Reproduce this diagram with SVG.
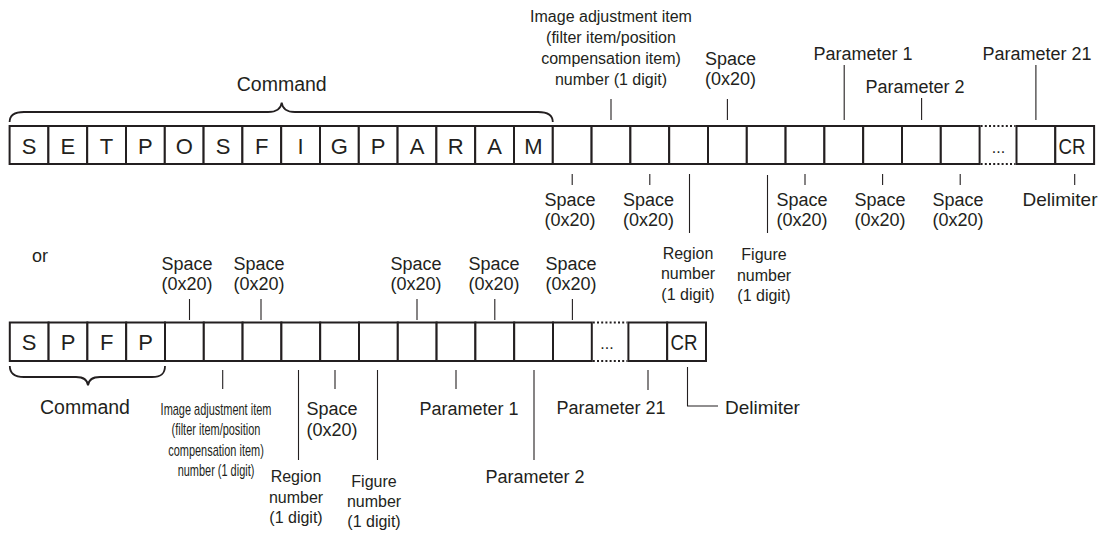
<svg xmlns="http://www.w3.org/2000/svg" width="1109" height="533" viewBox="0 0 1109 533">
<style>
text{font-family:"Liberation Sans",Arial,sans-serif;fill:#231f20}
.cell{fill:#fff;stroke:#231f20;stroke-width:2}
.ch{font-size:22px;text-anchor:middle}
.lb{font-size:18px;text-anchor:middle}
.sm{font-size:16px;text-anchor:middle}
.cmd{font-size:19.5px;text-anchor:middle}
.tk{stroke:#231f20;stroke-width:1.1;fill:none}
.br{stroke:#231f20;stroke-width:1.8;fill:none}
.dot{stroke:#231f20;stroke-width:2;stroke-dasharray:2 2.2}
.el{font-size:16px;text-anchor:middle}
.cond{font-size:16px;text-anchor:middle}
</style>
<rect width="1109" height="533" fill="#fff"/>

<!-- Top row -->
<g id="row-top">
<g id="t-S1"><rect class="cell" x="9.6" y="126" width="38.8" height="38"/><text class="ch" x="29" y="153.5">S</text></g>
<g id="t-E"><rect class="cell" x="48.4" y="126" width="38.8" height="38"/><text class="ch" x="67.8" y="153.5">E</text></g>
<g id="t-T"><rect class="cell" x="87.2" y="126" width="38.8" height="38"/><text class="ch" x="106.6" y="153.5">T</text></g>
<g id="t-P1"><rect class="cell" x="126" y="126" width="38.8" height="38"/><text class="ch" x="145.4" y="153.5">P</text></g>
<g id="t-O"><rect class="cell" x="164.8" y="126" width="38.8" height="38"/><text class="ch" x="184.2" y="153.5">O</text></g>
<g id="t-S2"><rect class="cell" x="203.6" y="126" width="38.8" height="38"/><text class="ch" x="223" y="153.5">S</text></g>
<g id="t-F"><rect class="cell" x="242.4" y="126" width="38.8" height="38"/><text class="ch" x="261.8" y="153.5">F</text></g>
<g id="t-I"><rect class="cell" x="281.2" y="126" width="38.8" height="38"/><text class="ch" x="300.6" y="153.5">I</text></g>
<g id="t-G"><rect class="cell" x="320" y="126" width="38.8" height="38"/><text class="ch" x="339.4" y="153.5">G</text></g>
<g id="t-P2"><rect class="cell" x="358.8" y="126" width="38.8" height="38"/><text class="ch" x="378.2" y="153.5">P</text></g>
<g id="t-A1"><rect class="cell" x="397.6" y="126" width="38.8" height="38"/><text class="ch" x="417" y="153.5">A</text></g>
<g id="t-R"><rect class="cell" x="436.4" y="126" width="38.8" height="38"/><text class="ch" x="455.8" y="153.5">R</text></g>
<g id="t-A2"><rect class="cell" x="475.2" y="126" width="38.8" height="38"/><text class="ch" x="494.6" y="153.5">A</text></g>
<g id="t-M"><rect class="cell" x="514" y="126" width="38.8" height="38"/><text class="ch" x="533.4" y="153.5">M</text></g>
<g id="t-e0"><rect class="cell" x="552.8" y="126" width="38.8" height="38"/></g>
<g id="t-e1"><rect class="cell" x="591.6" y="126" width="38.8" height="38"/></g>
<g id="t-e2"><rect class="cell" x="630.4" y="126" width="38.8" height="38"/></g>
<g id="t-e3"><rect class="cell" x="669.2" y="126" width="38.8" height="38"/></g>
<g id="t-e4"><rect class="cell" x="708" y="126" width="38.8" height="38"/></g>
<g id="t-e5"><rect class="cell" x="746.8" y="126" width="38.8" height="38"/></g>
<g id="t-e6"><rect class="cell" x="785.6" y="126" width="38.8" height="38"/></g>
<g id="t-e7"><rect class="cell" x="824.4" y="126" width="38.8" height="38"/></g>
<g id="t-e8"><rect class="cell" x="863.2" y="126" width="38.8" height="38"/></g>
<g id="t-e9"><rect class="cell" x="902" y="126" width="38.8" height="38"/></g>
<g id="t-e10"><rect class="cell" x="940.8" y="126" width="38.8" height="38"/></g>
<g id="t-dots"><line class="dot" x1="980.6" y1="126" x2="1015.5" y2="126"/><line class="dot" x1="980.6" y1="164" x2="1015.5" y2="164"/><text class="el" x="998.5" y="153">...</text></g>
<g id="t-p21"><rect class="cell" x="1016.5" y="126" width="38.8" height="38"/></g>
<g id="t-CR"><rect class="cell" x="1055.3" y="126" width="38.8" height="38"/><text class="ch" x="1072" y="153.5" textLength="27" lengthAdjust="spacingAndGlyphs">CR</text></g>
</g>

<!-- Bottom row -->
<g id="row-bottom">
<g id="b-S"><rect class="cell" x="9.8" y="322.5" width="38.8" height="38.5"/><text class="ch" x="29.2" y="350">S</text></g>
<g id="b-P1"><rect class="cell" x="48.6" y="322.5" width="38.8" height="38.5"/><text class="ch" x="68" y="350">P</text></g>
<g id="b-F"><rect class="cell" x="87.4" y="322.5" width="38.8" height="38.5"/><text class="ch" x="106.8" y="350">F</text></g>
<g id="b-P2"><rect class="cell" x="126.2" y="322.5" width="38.8" height="38.5"/><text class="ch" x="145.6" y="350">P</text></g>
<g id="b-e0"><rect class="cell" x="165" y="322.5" width="38.8" height="38.5"/></g>
<g id="b-e1"><rect class="cell" x="203.8" y="322.5" width="38.8" height="38.5"/></g>
<g id="b-e2"><rect class="cell" x="242.6" y="322.5" width="38.8" height="38.5"/></g>
<g id="b-e3"><rect class="cell" x="281.4" y="322.5" width="38.8" height="38.5"/></g>
<g id="b-e4"><rect class="cell" x="320.2" y="322.5" width="38.8" height="38.5"/></g>
<g id="b-e5"><rect class="cell" x="359" y="322.5" width="38.8" height="38.5"/></g>
<g id="b-e6"><rect class="cell" x="397.8" y="322.5" width="38.8" height="38.5"/></g>
<g id="b-e7"><rect class="cell" x="436.6" y="322.5" width="38.8" height="38.5"/></g>
<g id="b-e8"><rect class="cell" x="475.4" y="322.5" width="38.8" height="38.5"/></g>
<g id="b-e9"><rect class="cell" x="514.2" y="322.5" width="38.8" height="38.5"/></g>
<g id="b-e10"><rect class="cell" x="553" y="322.5" width="38.8" height="38.5"/></g>
<g id="b-dots"><line class="dot" x1="592.8" y1="322.5" x2="627.4" y2="322.5"/><line class="dot" x1="592.8" y1="361" x2="627.4" y2="361"/><text class="el" x="607" y="349">...</text></g>
<g id="b-p21"><rect class="cell" x="628.4" y="322.5" width="38.8" height="38.5"/></g>
<g id="b-CR"><rect class="cell" x="667.2" y="322.5" width="38.8" height="38.5"/><text class="ch" x="684" y="350" textLength="27" lengthAdjust="spacingAndGlyphs">CR</text></g>
</g>

<!-- Connectors -->
<g id="connectors">
<path class="br" d="M9.6,122 C9.6,115 14,112 24,112 L268,112 C276,112 281,109 281.7,102.5 C282.4,109 287,112 295,112 L538,112 C548,112 552.8,115 552.8,122"/>
<path class="br" d="M9.8,366 C9.8,373 14,377 24,377 L76,377 C83,377 87.5,380 88,385.5 C88.5,380 93,377 100,377 L152,377 C162,377 165,373 165,366"/>
<!-- top above -->
<line class="tk" x1="611" y1="99" x2="611" y2="120"/>
<line class="tk" x1="727.4" y1="99" x2="727.4" y2="120"/>
<line class="tk" x1="844.2" y1="65" x2="844.2" y2="120"/>
<line class="tk" x1="921.6" y1="98" x2="921.6" y2="120"/>
<line class="tk" x1="1035.9" y1="65" x2="1035.9" y2="120"/>
<!-- top below -->
<line class="tk" x1="572.2" y1="174" x2="572.2" y2="185"/>
<line class="tk" x1="649.8" y1="174" x2="649.8" y2="185"/>
<line class="tk" x1="689.5" y1="174" x2="689.5" y2="233"/>
<line class="tk" x1="767.5" y1="175" x2="767.5" y2="233"/>
<line class="tk" x1="805" y1="174" x2="805" y2="185"/>
<line class="tk" x1="882.6" y1="174" x2="882.6" y2="185"/>
<line class="tk" x1="960.2" y1="174" x2="960.2" y2="185"/>
<line class="tk" x1="1074.7" y1="174" x2="1074.7" y2="185"/>
<!-- bottom above -->
<line class="tk" x1="189.5" y1="299" x2="189.5" y2="320"/>
<line class="tk" x1="261" y1="299" x2="261" y2="320"/>
<line class="tk" x1="417" y1="299" x2="417" y2="320"/>
<line class="tk" x1="494.8" y1="299" x2="494.8" y2="320"/>
<line class="tk" x1="572.4" y1="299" x2="572.4" y2="320"/>
<!-- bottom below -->
<line class="tk" x1="222.7" y1="370" x2="222.7" y2="389"/>
<line class="tk" x1="298.5" y1="370" x2="298.5" y2="460"/>
<line class="tk" x1="335" y1="370" x2="335" y2="389"/>
<line class="tk" x1="377.5" y1="370" x2="377.5" y2="460"/>
<line class="tk" x1="456" y1="370" x2="456" y2="389"/>
<line class="tk" x1="534" y1="370" x2="534" y2="460"/>
<line class="tk" x1="648" y1="370" x2="648" y2="390"/>
<polyline class="tk" points="687.5,367 687.5,406 718,406"/>
</g>

<!-- Labels -->
<g id="labels-top">
<text class="cmd" x="281.7" y="90.5">Command</text>
<g id="lt-imgadj"><text class="sm" x="611" y="21.5">Image adjustment item</text><text class="sm" x="611" y="42.5">(filter item/position</text><text class="sm" x="611" y="63.5">compensation item)</text><text class="sm" x="611" y="84.5">number (1 digit)</text></g>
<g id="lt-sp4"><text class="lb" x="730.5" y="65">Space</text><text class="lb" x="730.5" y="85">(0x20)</text></g>
<text class="lb" x="863" y="60">Parameter 1</text>
<text class="lb" x="915" y="93">Parameter 2</text>
<text class="lb" x="1037" y="60">Parameter 21</text>
<g id="lt-sp0"><text class="lb" x="570" y="206">Space</text><text class="lb" x="570" y="226">(0x20)</text></g>
<g id="lt-sp2"><text class="lb" x="648.5" y="206">Space</text><text class="lb" x="648.5" y="226">(0x20)</text></g>
<g id="lt-region"><text class="sm" x="688" y="258.5">Region</text><text class="sm" x="688" y="279">number</text><text class="sm" x="688" y="299.5">(1 digit)</text></g>
<g id="lt-figure"><text class="sm" x="764" y="260">Figure</text><text class="sm" x="764" y="280.5">number</text><text class="sm" x="764" y="301">(1 digit)</text></g>
<g id="lt-sp6"><text class="lb" x="802" y="206">Space</text><text class="lb" x="802" y="226">(0x20)</text></g>
<g id="lt-sp8"><text class="lb" x="880" y="206">Space</text><text class="lb" x="880" y="226">(0x20)</text></g>
<g id="lt-sp10"><text class="lb" x="958" y="206">Space</text><text class="lb" x="958" y="226">(0x20)</text></g>
<text class="lb" x="1060" y="206" style="font-size:19px">Delimiter</text>
</g>

<g id="labels-bottom">
<text x="32" y="262" style="font-size:18px">or</text>
<g id="lb-sp0"><text class="lb" x="187" y="270">Space</text><text class="lb" x="187" y="290">(0x20)</text></g>
<g id="lb-sp2"><text class="lb" x="259" y="270">Space</text><text class="lb" x="259" y="290">(0x20)</text></g>
<g id="lb-sp6"><text class="lb" x="416" y="270">Space</text><text class="lb" x="416" y="290">(0x20)</text></g>
<g id="lb-sp8"><text class="lb" x="494" y="270">Space</text><text class="lb" x="494" y="290">(0x20)</text></g>
<g id="lb-sp10"><text class="lb" x="571" y="270">Space</text><text class="lb" x="571" y="290">(0x20)</text></g>
<text class="cmd" x="85" y="414">Command</text>
<g id="lb-imgadj" transform="translate(216 0) scale(0.685 1)">
<text class="cond" x="0" y="415">Image adjustment item</text>
<text class="cond" x="0" y="435.5">(filter item/position</text>
<text class="cond" x="0" y="456">compensation item)</text>
<text class="cond" x="0" y="476.5">number (1 digit)</text>
</g>
<g id="lb-region"><text class="sm" x="296" y="482">Region</text><text class="sm" x="296" y="502.5">number</text><text class="sm" x="296" y="523">(1 digit)</text></g>
<g id="lb-sp4"><text class="lb" x="332" y="415">Space</text><text class="lb" x="332" y="435.5">(0x20)</text></g>
<g id="lb-figure"><text class="sm" x="374" y="487">Figure</text><text class="sm" x="374" y="507">number</text><text class="sm" x="374" y="527">(1 digit)</text></g>
<text class="lb" x="469" y="415">Parameter 1</text>
<text class="lb" x="535" y="483">Parameter 2</text>
<text class="lb" x="611" y="414">Parameter 21</text>
<text x="725" y="413.5" style="font-size:19px">Delimiter</text>
</g>
</svg>
